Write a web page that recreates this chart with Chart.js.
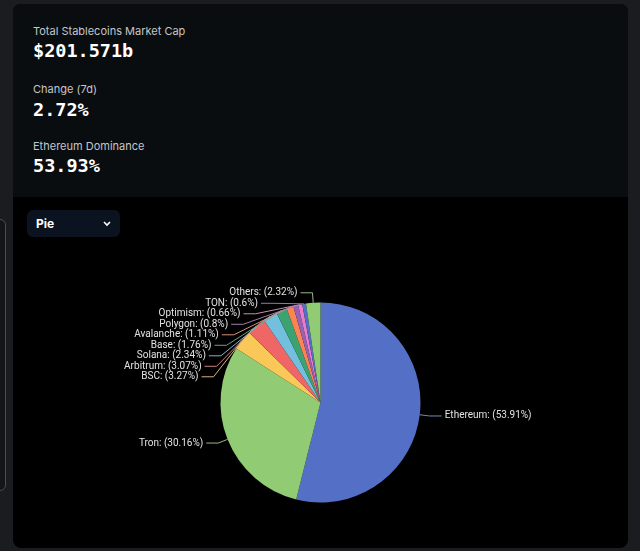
<!DOCTYPE html>
<html>
<head>
<meta charset="utf-8">
<script src="https://cdn.jsdelivr.net/npm/chart.js@4.4.1/dist/chart.umd.min.js"></script>
<style>
  html, body { margin: 0; padding: 0; }
  body { width: 640px; height: 551px; background: #1b1c1f; position: relative; overflow: hidden; font-family: Inter, "Noto Sans", sans-serif; }
  .sidebox { position: absolute; left: -12px; top: 219px; width: 16px; height: 270px; border: 1.5px solid #4b4c51; border-radius: 6px; background: #141518; }
  .card { position: absolute; left: 13px; top: 4px; width: 615px; height: 544px; border-radius: 8px; overflow: hidden; background: #000; }
  .stats { position: absolute; left: 0; top: 0; width: 615px; height: 193px; background: #0a0d0f; }
  .lbl { position: absolute; left: 20px; font-size: 11px; color: #c4c6c9; }
  .val { position: absolute; left: 20px; font-family: "DejaVu Sans Mono", monospace; font-weight: bold; font-size: 18.5px; color: #fff; }
  .dropdown { position: absolute; left: 14px; top: 206px; width: 93px; height: 27px; border-radius: 6px; background: #0b1220; z-index: 2; }
  .dropdown span { position: absolute; left: 9px; top: 6px; font-size: 12px; font-weight: bold; color: #fff; }
  .dropdown svg { position: absolute; left: 75px; top: 10px; }
  canvas { position: absolute; left: 0; top: 193px; }
</style>
</head>
<body>
<div class="sidebox"></div>
<div class="card">
  <div class="stats">
    <div class="lbl" style="top:19.5px">Total Stablecoins Market Cap</div>
    <div class="val" style="top:36px">$201.571b</div>
    <div class="lbl" style="top:77.5px">Change (7d)</div>
    <div class="val" style="top:95px">2.72%</div>
    <div class="lbl" style="top:134.5px">Ethereum Dominance</div>
    <div class="val" style="top:151px">53.93%</div>
  </div>
  <div class="dropdown"><span>Pie</span>
    <svg width="10" height="8" viewBox="0 0 10 8"><path d="M2 2 L5 5 L8 2" stroke="#fff" stroke-width="1.6" fill="none"/></svg>
  </div>
  <canvas id="pie" width="615" height="351"></canvas>
</div>
<script>
const chains = ["Ethereum", "Tron", "BSC", "Arbitrum", "Solana", "Base", "Avalanche", "Polygon", "Optimism", "TON", "Others"];
const shares = [53.91, 30.16, 3.27, 3.07, 2.34, 1.76, 1.11, 0.8, 0.66, 0.6, 2.32];
const colors = ["#5470c6", "#91cc75", "#fac858", "#ee6666", "#73c0de", "#3ba272", "#fc8452", "#9a60b4", "#ea7ccc", "#5470c6", "#91cc75"];

// mix slice colour with grey for the label lines
const lineColor = (hex) => {
  const n = parseInt(hex.slice(1), 16);
  const r = ((n >> 16) & 255), g = ((n >> 8) & 255), b = (n & 255);
  const m = (c) => Math.round(c * 0.55 + 160 * 0.45);
  return `rgb(${m(r)},${m(g)},${m(b)})`;
};

const canvas = document.getElementById("pie");

new Chart(canvas, {
  type: "pie",
  data: {
    labels: chains,
    datasets: [
      {
        data: shares,
        backgroundColor: colors,
        borderWidth: 0,
      },
    ],
  },
  options: {
    responsive: false,
    animation: false,
    layout: {
      padding: { left: 207.5, right: 207.5, top: 105.5, bottom: 45.5 },
    },
    plugins: {
      legend: { display: false },
      tooltip: { enabled: false },
      outLabels: { len1: 10, len2: 12, gap: 3, spacing: 10.5 },
    },
  },
  plugins: [
    {
      id: "outLabels",
      afterDraw(chart, args, opts) {
        const ctx = chart.ctx;
        const meta = chart.getDatasetMeta(0);
        const items = [];
        meta.data.forEach((arc, i) => {
          const mid = (arc.startAngle + arc.endAngle) / 2;
          const cos = Math.cos(mid), sin = Math.sin(mid);
          const r = arc.outerRadius;
          items.push({
            i,
            cx: arc.x,
            cy: arc.y,
            R2: r + opts.len1,
            ex: arc.x + cos * r,
            ey: arc.y + sin * r,
            y: arc.y + sin * (r + opts.len1),
            dir: cos >= 0 ? 1 : -1,
          });
        });
        // push labels down on each side so they don't overlap
        [1, -1].forEach((dir) => {
          const side = items.filter((it) => it.dir === dir).sort((a, b) => a.y - b.y);
          for (let k = 1; k < side.length; k++) {
            if (side[k].y < side[k - 1].y + opts.spacing) side[k].y = side[k - 1].y + opts.spacing;
          }
        });
        ctx.save();
        ctx.font = "10px Roboto";
        ctx.textBaseline = "middle";
        items.forEach((it) => {
          const dy = it.y - it.cy;
          const dx = Math.abs(dy) < it.R2 ? Math.sqrt(it.R2 * it.R2 - dy * dy) : 0;
          const bx = it.cx + it.dir * dx;
          const tx = bx + it.dir * opts.len2;
          ctx.strokeStyle = lineColor(colors[it.i]);
          ctx.lineWidth = 1;
          ctx.beginPath();
          ctx.moveTo(it.ex, it.ey);
          ctx.lineTo(bx, it.y);
          ctx.lineTo(tx, it.y);
          ctx.stroke();
          ctx.fillStyle = "#e2e2e2";
          ctx.textAlign = it.dir > 0 ? "left" : "right";
          ctx.fillText(`${chains[it.i]}: (${shares[it.i]}%)`, tx + it.dir * opts.gap, it.y);
        });
        ctx.restore();
      },
    },
  ],
});
</script>
</body>
</html>
